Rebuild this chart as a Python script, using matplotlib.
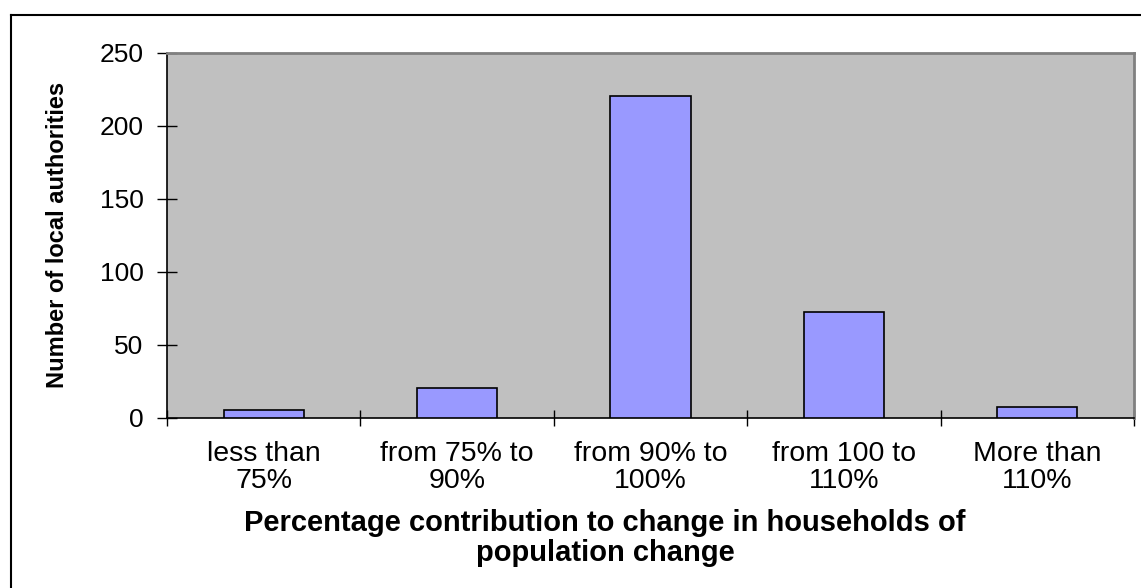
import matplotlib
matplotlib.use("Agg")
import matplotlib.pyplot as plt
from matplotlib.lines import Line2D
import numpy as np

categories = ["less than\n75%", "from 75% to\n90%", "from 90% to\n100%", "from 100 to\n110%", "More than\n110%"]
counts = [5, 20, 220, 72, 7]
y_ticks = [0, 50, 100, 150, 200, 250]
x_title = "Percentage contribution to change in households of\npopulation change"
y_title = "Number of local authorities"

plt.rcParams['font.family'] = ['Liberation Sans', 'DejaVu Sans']

W, H = 1141, 588
fig = plt.figure(figsize=(W / 100, H / 100), dpi=100)
left, right, top, bottom = 167, 1134, 52.5, 417.5
ax = fig.add_axes([left / W, 1 - bottom / H, (right - left) / W, (bottom - top) / H])
ax.set_facecolor("#C0C0C0")

x = np.arange(len(categories))
ax.bar(x, counts, width=0.415, color="#9999FF", edgecolor="black", linewidth=1.2, zorder=3)

ax.set_xlim(-0.5, len(categories) - 0.5)
ax.set_ylim(0, 250)
ax.set_yticks(y_ticks)
ax.set_yticklabels([str(v) for v in y_ticks], fontsize=19)
ax.tick_params(axis='y', direction='inout', length=14, width=1, pad=10)

ax.set_xticks(x)
ax.set_xticklabels(categories, fontsize=20.5, linespacing=1.05)
ax.set_xticks(np.arange(-0.5, len(categories), 1.0), minor=True)
ax.tick_params(axis='x', which='major', length=0, pad=17)
ax.tick_params(axis='x', which='minor', direction='inout', length=11, width=1)

for s in ['left', 'bottom']:
    ax.spines[s].set_color('black')
    ax.spines[s].set_linewidth(1.2)
for s in ['top', 'right']:
    ax.spines[s].set_color('#808080')
    ax.spines[s].set_linewidth(2)

ax.set_ylabel(y_title, fontsize=17, fontweight='bold', labelpad=22)

fig.text(605 / W, 1 - 538 / H, x_title, ha='center', va='center',
         fontsize=21, fontweight='bold', linespacing=1.05)

# outer chart border (left and top visible)
fig.add_artist(Line2D([11 / W, 11 / W], [0, 1 - 15 / H], transform=fig.transFigure, color='black', lw=1.5))
fig.add_artist(Line2D([11 / W, 1], [1 - 15 / H, 1 - 15 / H], transform=fig.transFigure, color='black', lw=1.5))

fig.savefig("out.png", dpi=100)
